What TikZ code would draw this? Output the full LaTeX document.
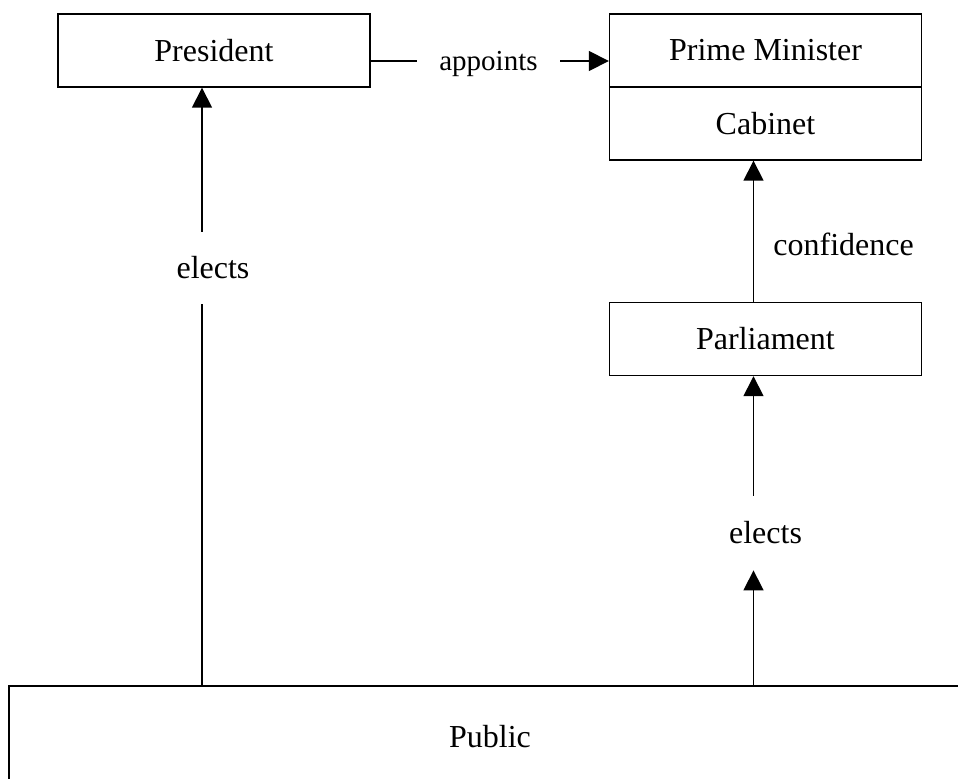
\documentclass[tikz,border=0pt]{standalone}
\usepackage{fontspec}
\setmainfont{Liberation Serif}
\usetikzlibrary{arrows.meta, positioning}
\tikzset{
    box/.style={
        draw,
        line width=0.7pt,
        minimum width=156pt,
        minimum height=36.5pt,
        inner sep=0pt,
        align=center
    },
    bigbox/.style={
        draw,
        line width=0.7pt,
        minimum width=481pt,
        minimum height=51pt,
        align=center
    },
    lbl/.style={inner sep=0pt},
    line/.style={-{Triangle[length=10pt, width=10pt]}, line width=0.8pt},
    plainline/.style={line width=0.8pt},
    every node/.style={font=\fontsize{16pt}{19pt}\selectfont}
}
\begin{document}
\begin{tikzpicture}[x=0.5pt, y=-0.5pt]
\path[use as bounding box, clip] (0,0) rectangle (958,778);

\node[box] (pres) at (214,50.5) {President};
\node[box] (pm) at (765.5,50.5) {Prime Minister};
\node[box, below=-0.7pt of pm] (cab) {Cabinet};
\node[box] (parl) at (765.5,339) {Parliament};
\node[bigbox] (pub) at (490,737) {Public};

% labels
\node[lbl, inner xsep=11pt, font=\fontsize{14.5pt}{17pt}\selectfont] (appt) at (488.5,64) {appoints};
\node[lbl, minimum height=36pt] (elA) at (213,268) {elects};
\node[lbl, minimum height=37pt] (elB) at (765.5,533) {elects};
\node[lbl, anchor=west] (conf) at (773,244) {confidence};

\coordinate (colA) at ([xshift=-6pt]pres.south);
\coordinate (colB) at ([xshift=-6pt]parl.south);
\coordinate (aptL) at ([yshift=1.5pt]appt.west);
\coordinate (aptR) at ([yshift=1.5pt]appt.east);

\draw[plainline] (pres.east |- aptL) -- (aptL);
\draw[line] (aptR) -- (pm.west |- aptR);

\draw[plainline] (colA |- pub.north) -- (colA |- elA.south);
\draw[line] (colA |- elA.north) -- (colA);

\draw[line] (colB |- parl.north) -- (colB |- cab.south);

\draw[line] (colB |- elB.north) -- (colB);
\draw[line] (colB |- pub.north) -- (colB |- elB.south);
\end{tikzpicture}
\end{document}
